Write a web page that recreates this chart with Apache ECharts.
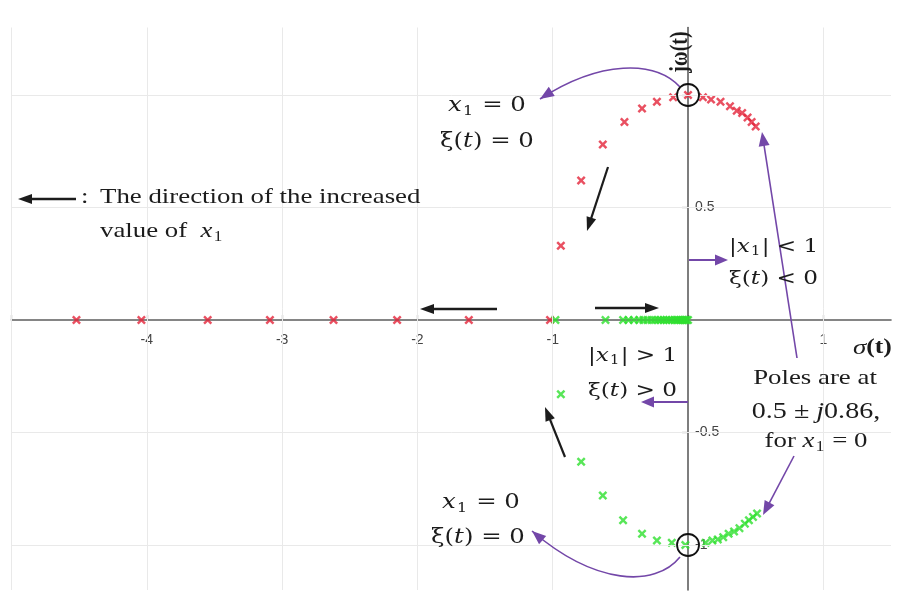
<!DOCTYPE html>
<html>
<head>
<meta charset="utf-8">
<script src="https://cdn.jsdelivr.net/npm/echarts@6/dist/echarts.min.js"></script>
<style>
  html, body { margin: 0; padding: 0; background: #fff; }
  #c { width: 899px; height: 597px; }
</style>
</head>
<body>
<div id="c"></div>
<script>
// Closed-loop pole locations as x1 varies (sigma = real part, j*omega = imaginary part)

// Upper complex branch (red)
const redBranch = [
  [-0.94, 0.33], [-0.79, 0.62], [-0.63, 0.78], [-0.47, 0.88], [-0.34, 0.94],
  [-0.23, 0.97], [-0.11, 0.99], [0.00, 1.00], [0.11, 0.99], [0.17, 0.98],
  [0.24, 0.97], [0.31, 0.95], [0.36, 0.93], [0.40, 0.92], [0.44, 0.90],
  [0.47, 0.88], [0.50, 0.86]
];
// Red poles on the negative real axis
const redReal = [-4.52, -4.04, -3.55, -3.09, -2.62, -2.15, -1.62, -1.02];

// Lower complex branch (green)
const greenBranch = [
  [-0.94, -0.33], [-0.79, -0.63], [-0.63, -0.78], [-0.48, -0.89], [-0.34, -0.95],
  [-0.23, -0.98], [-0.12, -0.99], [-0.02, -1.00], [0.13, -0.99], [0.18, -0.98],
  [0.22, -0.975], [0.26, -0.965], [0.30, -0.95], [0.34, -0.94], [0.38, -0.925],
  [0.42, -0.905], [0.45, -0.89], [0.48, -0.875], [0.51, -0.86]
];
// Green poles on the real axis, crowding towards the origin
const greenReal = [
  -0.98, -0.61, -0.48, -0.44, -0.40, -0.36, -0.33, -0.30, -0.27, -0.245,
  -0.22, -0.20, -0.18, -0.16, -0.14, -0.12, -0.10, -0.085, -0.07, -0.055,
  -0.04, -0.03, -0.02, -0.01, 0.00
];

// Axis ranges, ticks, labels and grid lines
const xRange = [-5, 1.5];
const yRange = [-1.2, 1.3];
const xTicks = [-5, -4, -3, -2, -1, 0, 1];
const xTickLabels = [-4, -3, -2, -1, 1];
const yTicks = [-1, -0.5, 0.5, 1];
const yTickLabels = [-1, -0.5, 0.5];
const xGridLines = [-5, -4, -3, -2, -1, 1];
const yGridLines = [-1, -0.5, 0.5, 1];

const RED = '#e3243a';
const GREEN = '#2ee02e';
const PURPLE = '#7347a8';
const INK = '#1c1c1c';
const AXIS = '#5e5e5e';
const TIMES = "'Liberation Serif', 'DejaVu Serif', serif";
const MATH = "'DejaVu Serif', 'Liberation Serif', serif";
const SANS = "'Liberation Sans', Arial, sans-serif";
const CROSS = 'path://M0,1.9L1.9,0L5,3.1L8.1,0L10,1.9L6.9,5L10,8.1L8.1,10L5,6.9L1.9,10L0,8.1L3.1,5Z';
const WIDEN = 1.22; // horizontal stretch of the annotation lettering

const W = 899, H = 597;
const GRID = { left: 11.5, right: 8, top: 27.5, bottom: 7 };
const gridW = W - GRID.left - GRID.right;
const gridH = H - GRID.top - GRID.bottom;
// the axes cross at the origin: shift them from the grid edges onto zero
const xAxisShift = -gridH * (0 - yRange[0]) / (yRange[1] - yRange[0]);
const yAxisShift = -gridW * (0 - xRange[0]) / (xRange[1] - xRange[0]);

const chart = echarts.init(document.getElementById('c'), null, { renderer: 'canvas' });

chart.setOption({
  animation: false,
  grid: Object.assign({ outerBoundsMode: 'none', containLabel: false }, GRID),
  xAxis: {
    type: 'value', min: xRange[0], max: xRange[1], z: 2,
    position: 'bottom', offset: xAxisShift,
    axisLine: { onZero: false, lineStyle: { color: AXIS, width: 1.6 } },
    axisTick: { inside: true, length: 5, customValues: xTicks, lineStyle: { color: AXIS, width: 1.2 } },
    axisLabel: { customValues: xTickLabels, color: '#444', fontFamily: SANS, fontSize: 14, margin: 13 },
    splitLine: { show: false }
  },
  yAxis: {
    type: 'value', min: yRange[0], max: yRange[1], z: 2,
    position: 'left', offset: yAxisShift,
    axisLine: { onZero: false, lineStyle: { color: AXIS, width: 1.6 } },
    axisTick: { length: 6, customValues: yTicks, lineStyle: { color: AXIS, width: 1.2 } },
    axisLabel: { inside: true, customValues: yTickLabels, color: '#444', fontFamily: SANS, fontSize: 14, margin: 7 },
    splitLine: { show: false }
  },
  series: [
    {
      type: 'scatter', z: 1, silent: true, data: [],
      markLine: {
        silent: true, symbol: 'none', animation: false,
        label: { show: false },
        lineStyle: { color: '#e9e9e9', width: 1, type: 'solid' },
        data: xGridLines.map(v => ({ xAxis: v })).concat(yGridLines.map(v => ({ yAxis: v })))
      }
    },
    {
      type: 'scatter', z: 3, symbol: CROSS, symbolSize: 9,
      itemStyle: { color: RED },
      data: redBranch.concat(redReal.map(v => [v, 0]))
    },
    {
      type: 'scatter', z: 4, symbol: CROSS, symbolSize: 9,
      itemStyle: { color: GREEN },
      data: greenBranch.concat(greenReal.map(v => [v, 0]))
    }
  ]
});

// ---- annotations ----
const P = (x, y) => chart.convertToPixel({ gridIndex: 0 }, [x, y]);
const g = [];

function head(tip, from, color, len, wid) {
  const dx = tip[0] - from[0], dy = tip[1] - from[1];
  const d = Math.hypot(dx, dy), ux = dx / d, uy = dy / d;
  const bx = tip[0] - ux * len, by = tip[1] - uy * len;
  return {
    type: 'polygon', z: 20,
    shape: { points: [tip, [bx - uy * wid / 2, by + ux * wid / 2], [bx + uy * wid / 2, by - ux * wid / 2]] },
    style: { fill: color }
  };
}
function arrow(from, to, color, w, len, wid) {
  const dx = to[0] - from[0], dy = to[1] - from[1];
  const d = Math.hypot(dx, dy);
  const ex = to[0] - dx / d * len * 0.8, ey = to[1] - dy / d * len * 0.8;
  g.push({ type: 'line', z: 20, shape: { x1: from[0], y1: from[1], x2: ex, y2: ey }, style: { stroke: color, lineWidth: w } });
  g.push(head(to, from, color, len, wid));
}
function curve(p0, c1, c2, p1, color, w, len, wid) {
  g.push({
    type: 'bezierCurve', z: 20,
    shape: { x1: p0[0], y1: p0[1], cpx1: c1[0], cpy1: c1[1], cpx2: c2[0], cpy2: c2[1], x2: p1[0], y2: p1[1] },
    style: { stroke: color, lineWidth: w, fill: null }
  });
  g.push(head(p1, c2, color, len, wid));
}
// rich text styles: math (DejaVu Serif) and prose (Liberation Serif)
function richSet(family, size, subSize) {
  const h = Math.round(size * 1.3);
  return {
    i: { fontFamily: family, fontStyle: 'italic', fontSize: size, fill: INK, height: h },
    n: { fontFamily: family, fontSize: size, fill: INK, height: h },
    s: { fontFamily: family, fontSize: subSize, fill: INK, height: h, padding: [Math.round(size * 0.55), 1, 0, 1] }
  };
}
function text(x, y, t, family, size, align, extra) {
  g.push(Object.assign({
    type: 'text', z: 21, x: x, y: y, scaleX: WIDEN,
    style: {
      text: t, fill: INK, fontFamily: family, fontSize: size,
      align: align || 'left', verticalAlign: 'middle',
      rich: richSet(family, size, Math.round(size * 0.65))
    }
  }, extra || {}));
}

// circles around the x1 = 0 poles
[[0, 1], [0, -1]].forEach(p => {
  const c = P(p[0], p[1]);
  g.push({ type: 'circle', z: 22, shape: { cx: c[0], cy: c[1], r: 11 }, style: { stroke: '#111', lineWidth: 1.8, fill: null } });
});

// purple pointers
curve([680, 87], [655, 60], [600, 60], [540, 99], PURPLE, 1.6, 14, 11);
curve([680, 557], [655, 588], [595, 585], [532, 531], PURPLE, 1.6, 14, 11);
arrow([797, 358], [762, 132], PURPLE, 1.6, 14, 11);
arrow([794, 456], [763, 515], PURPLE, 1.6, 14, 11);
arrow([689, 260], [728, 260], PURPLE, 2, 13, 11);
arrow([688, 402], [641, 402], PURPLE, 2, 13, 11);

// black direction arrows
arrow([608, 167], [587, 231], INK, 2.2, 14, 10);
arrow([565, 457], [545, 407], INK, 2.2, 14, 10);
arrow([497, 309], [420, 309], INK, 2.6, 14, 10);
arrow([595, 308], [659, 308], INK, 2.6, 14, 10);
arrow([76, 199], [18, 199], INK, 2.4, 14, 10);

// math labels
text(487, 106, '{i|x}{s|1}{n| = 0}', MATH, 20, 'center');
text(487, 142, '{n|ξ(}{i|t}{n|) = 0}', MATH, 20, 'center');
text(481, 503, '{i|x}{s|1}{n| = 0}', MATH, 20, 'center');
text(478, 538, '{n|ξ(}{i|t}{n|) = 0}', MATH, 20, 'center');
text(729, 247, '{n||}{i|x}{s|1}{n|| < 1}', MATH, 19);
text(729, 279, '{n|ξ(}{i|t}{n|) < 0}', MATH, 19);
text(588, 356, '{n||}{i|x}{s|1}{n|| > 1}', MATH, 19);
text(588, 391, '{n|ξ(}{i|t}{n|) > 0}', MATH, 19);
text(815, 378, '{n|Poles are at}', TIMES, 22, 'center');
text(816, 412, '{n|0.5 ± }{i|j}{n|0.86,}', TIMES, 23, 'center');
text(816, 441, '{n|for }{i|x}{s|1}{n| = 0}', TIMES, 22, 'center');

// legend for the black arrows
text(81, 197, '{n|:}', TIMES, 22, 'left');
text(100, 197, '{n|The direction of the increased}', TIMES, 22);
text(100, 231, '{n|value of  }{i|x}{s|1}', TIMES, 22);

// axis names
text(853, 348, '{i|σ}{b|(t)}', TIMES, 22, 'left');
g[g.length - 1].style.rich.b = { fontFamily: TIMES, fontWeight: 'bold', fontSize: 21, fill: INK, height: 29 };
g.push({
  type: 'text', z: 21, x: 681, y: 52, rotation: Math.PI / 2, scaleY: WIDEN,
  style: { text: 'jω(t)', fill: INK, fontFamily: TIMES, fontWeight: 'bold', fontSize: 20, align: 'center', verticalAlign: 'middle' }
});

chart.setOption({ graphic: g });
</script>
</body>
</html>
